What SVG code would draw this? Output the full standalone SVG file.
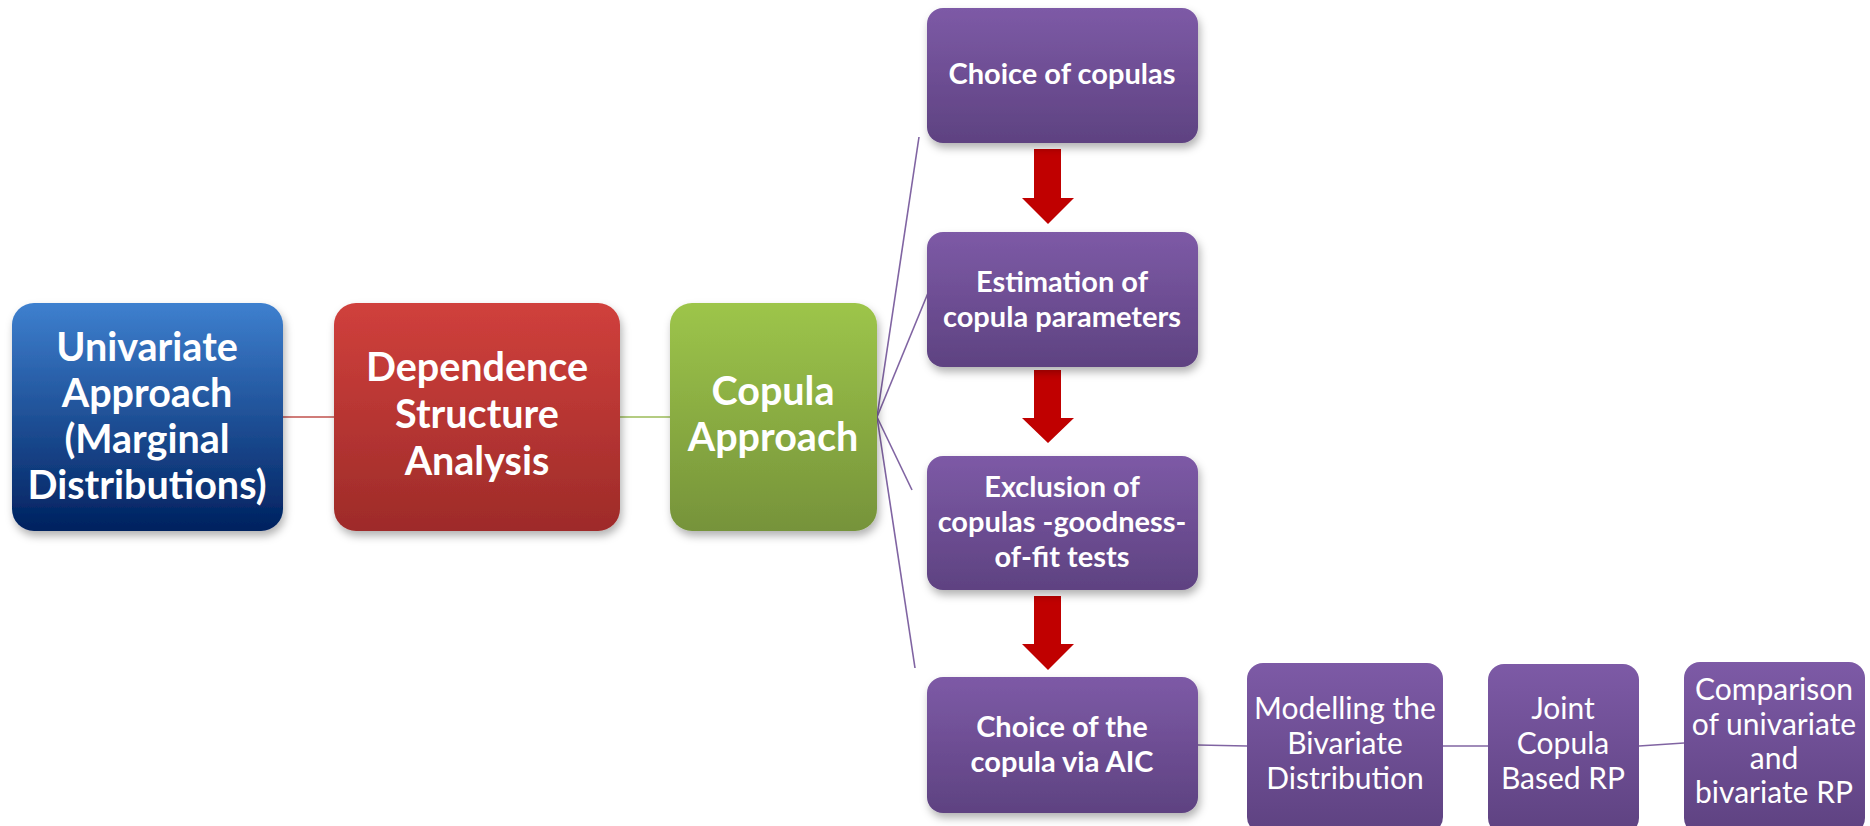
<svg xmlns="http://www.w3.org/2000/svg" width="1870" height="826" viewBox="0 0 1870 826">
<style>
.big{font-family:Lato,"Open Sans","Liberation Sans",sans-serif;font-weight:bold;font-size:39.5px;fill:#fff;text-anchor:middle}
.mid{font-family:Lato,"Open Sans","Liberation Sans",sans-serif;font-weight:bold;font-size:29px;fill:#fff;text-anchor:middle}
.reg{font-family:Lato,"Open Sans","Liberation Sans",sans-serif;font-weight:normal;font-size:30px;fill:#fff;text-anchor:middle}
.fan{stroke:#8064A2;stroke-width:1.6;fill:none}
</style>
<defs>
<linearGradient id="gBlue" x1="0" y1="0" x2="0" y2="1"><stop offset="0" stop-color="#3E80CF"/><stop offset="1" stop-color="#00215F"/></linearGradient>
<linearGradient id="gRed" x1="0" y1="0" x2="0" y2="1"><stop offset="0" stop-color="#D0403C"/><stop offset="1" stop-color="#9E2B29"/></linearGradient>
<linearGradient id="gGreen" x1="0" y1="0" x2="0" y2="1"><stop offset="0" stop-color="#9DC54A"/><stop offset="1" stop-color="#76933A"/></linearGradient>
<linearGradient id="gPurple" x1="0" y1="0" x2="0" y2="1"><stop offset="0" stop-color="#7D5AA6"/><stop offset="1" stop-color="#5E4281"/></linearGradient>
<filter id="sh" x="-10%" y="-10%" width="125%" height="130%"><feDropShadow dx="2" dy="5" stdDeviation="4" flood-color="#000" flood-opacity="0.3"/></filter>
</defs>
<g id="connectors">
<line x1="283" y1="417" x2="334" y2="417" stroke="#C0504D" stroke-width="1.6"/>
<line x1="620" y1="417" x2="670" y2="417" stroke="#9BBB59" stroke-width="1.6"/>
<line class="fan" x1="877" y1="417" x2="919" y2="137"/>
<line class="fan" x1="877" y1="417" x2="928" y2="293"/>
<line class="fan" x1="877" y1="417" x2="912" y2="490"/>
<line class="fan" x1="877" y1="417" x2="915" y2="668"/>
<line class="fan" x1="1198" y1="745" x2="1247" y2="746"/>
<line class="fan" x1="1443" y1="746" x2="1488" y2="746"/>
<line class="fan" x1="1639" y1="746" x2="1684" y2="743"/>
<g fill="#C00000">
<polygon points="1034,149 1061,149 1061,198 1074,198 1048,224 1022,198 1034,198"/>
<polygon points="1034,370 1061,370 1061,418 1074,418 1048,443 1022,418 1034,418"/>
<polygon points="1034,596 1061,596 1061,644 1074,644 1048,670 1022,644 1034,644"/>
</g>
</g>
<g id="univariate">
<rect x="12" y="303" width="271" height="228" rx="22" fill="url(#gBlue)" filter="url(#sh)"/>
<text class="big"><tspan x="147" y="361">Univariate</tspan><tspan x="147" y="407">Approach</tspan><tspan x="147" y="453">(Marginal</tspan><tspan x="147" y="499">Distributions)</tspan></text>
</g>
<g id="dependence">
<rect x="334" y="303" width="286" height="228" rx="22" fill="url(#gRed)" filter="url(#sh)"/>
<text class="big"><tspan x="477" y="381">Dependence</tspan><tspan x="477" y="428">Structure</tspan><tspan x="477" y="475">Analysis</tspan></text>
</g>
<g id="copula">
<rect x="670" y="303" width="207" height="228" rx="22" fill="url(#gGreen)" filter="url(#sh)"/>
<text class="big"><tspan x="773" y="405">Copula</tspan><tspan x="773" y="451">Approach</tspan></text>
</g>
<g id="choice">
<rect x="927" y="8" width="271" height="135" rx="16" fill="url(#gPurple)" filter="url(#sh)"/>
<text class="mid"><tspan x="1062" y="84">Choice of copulas</tspan></text>
</g>
<g id="estimation">
<rect x="927" y="232" width="271" height="135" rx="16" fill="url(#gPurple)" filter="url(#sh)"/>
<text class="mid"><tspan x="1062" y="292">Estimation of</tspan><tspan x="1062" y="327">copula parameters</tspan></text>
</g>
<g id="exclusion">
<rect x="927" y="456" width="271" height="134" rx="16" fill="url(#gPurple)" filter="url(#sh)"/>
<text class="mid"><tspan x="1062" y="497">Exclusion of</tspan><tspan x="1062" y="532">copulas -goodness-</tspan><tspan x="1062" y="567">of-fit tests</tspan></text>
</g>
<g id="choice-aic">
<rect x="927" y="677" width="271" height="136" rx="16" fill="url(#gPurple)" filter="url(#sh)"/>
<text class="mid"><tspan x="1062" y="737">Choice of the</tspan><tspan x="1062" y="772">copula via AIC</tspan></text>
</g>
<g id="modelling">
<rect x="1247" y="663" width="196" height="170" rx="16" fill="url(#gPurple)"/>
<text class="reg"><tspan x="1345" y="719">Modelling the</tspan><tspan x="1345" y="754">Bivariate</tspan><tspan x="1345" y="789">Distribution</tspan></text>
</g>
<g id="joint">
<rect x="1488" y="664" width="151" height="170" rx="16" fill="url(#gPurple)"/>
<text class="reg"><tspan x="1563" y="719">Joint</tspan><tspan x="1563" y="754">Copula</tspan><tspan x="1563" y="789">Based RP</tspan></text>
</g>
<g id="comparison">
<rect x="1684" y="662" width="181" height="172" rx="16" fill="url(#gPurple)"/>
<text class="reg"><tspan x="1774" y="700">Comparison</tspan><tspan x="1774" y="735">of univariate</tspan><tspan x="1774" y="769">and</tspan><tspan x="1774" y="803">bivariate RP</tspan></text>
</g>
</svg>
